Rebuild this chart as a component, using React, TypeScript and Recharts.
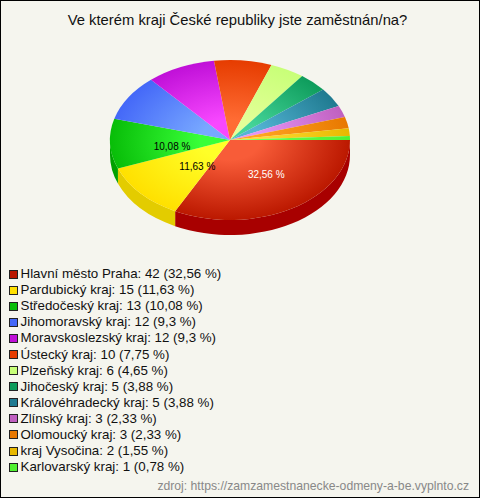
import { PieChart, Pie, Legend } from "recharts";

const regions = [
  "Hlavní město Praha",
  "Pardubický kraj",
  "Středočeský kraj",
  "Jihomoravský kraj",
  "Moravskoslezský kraj",
  "Ústecký kraj",
  "Plzeňský kraj",
  "Jihočeský kraj",
  "Královéhradecký kraj",
  "Zlínský kraj",
  "Olomoucký kraj",
  "kraj Vysočina",
  "Karlovarský kraj",
];
const counts = [42, 15, 13, 12, 12, 10, 6, 5, 5, 3, 3, 2, 1];
const percents = ["32,56", "11,63", "10,08", "9,3", "9,3", "7,75", "4,65", "3,88", "3,88", "2,33", "2,33", "1,55", "0,78"];

const rimColors = ["#bb1800", "#ffe000", "#08bd08", "#4468f8", "#c010d8", "#e63c00", "#c8ff78", "#0e9c5c", "#1f7a90", "#c060c0", "#e87800", "#e8b800", "#50f030"];
const coreColors = ["#f85c38", "#ffff28", "#38ff38", "#78a8ff", "#f848ff", "#ff6c34", "#e4ff98", "#44d498", "#54b4d4", "#e494f4", "#ffa420", "#ffdc34", "#70ff50"];
const sideColors = ["#a80000", "#e3cc00", "#00a000", "#3050c0", "#9000a0", "#b83000", "#a0cc60", "#0a7a48", "#186070", "#984c98", "#b86000", "#b89000", "#40c028"];

const labelNudges: Record<number, [number, number]> = { 0: [5, 0], 1: [12, 0], 2: [2, 5] };

const tableData = regions.map((name, i) => ({ name, value: counts[i], fill: rimColors[i] }));

const SQUASH = 2 / 3;
const DEPTH = 15;

const pt = (cx: number, cy: number, r: number, deg: number, dy = 0) => {
  const a = (deg * Math.PI) / 180;
  return [cx + r * Math.cos(a), cy + r * SQUASH * Math.sin(a) + dy];
};

const Slice = (props: any) => {
  const { cx, cy, outerRadius: r, startAngle, endAngle, index, name } = props;
  const i = index ?? regions.indexOf(name);
  const from = -startAngle;
  const to = -endAngle;
  const [x1, y1] = pt(cx, cy, r, from);
  const [x2, y2] = pt(cx, cy, r, to);
  const ry = r * SQUASH;
  const large = to - from > 180 ? 1 : 0;
  const top = `M${cx},${cy} L${x1},${y1} A${r},${ry} 0 ${large} 1 ${x2},${y2} Z`;

  // the rim is only seen on the front half
  let wall = null;
  const wallEnd = Math.min(to, 180);
  if (from < 180) {
    const [a1, b1] = pt(cx, cy, r, from);
    const [a2, b2] = pt(cx, cy, r, wallEnd);
    wall = (
      <path
        d={`M${a1},${b1} A${r},${ry} 0 0 1 ${a2},${b2} L${a2},${b2 + DEPTH} A${r},${ry} 0 0 0 ${a1},${b1 + DEPTH} Z`}
        fill={sideColors[i]}
      />
    );
  }

  const gid = `slice-${i}`;
  return (
    <g>
      <defs>
        <radialGradient
          id={gid}
          gradientUnits="userSpaceOnUse"
          cx={cx}
          cy={cy}
          r={r}
          gradientTransform={`translate(${cx} ${cy}) scale(1 ${SQUASH}) translate(${-cx} ${-cy})`}
        >
          <stop offset="25%" stopColor={coreColors[i]} />
          <stop offset="100%" stopColor={rimColors[i]} />
        </radialGradient>
      </defs>
      {wall}
      <path d={top} fill={`url(#${gid})`} />
    </g>
  );
};

const sliceLabel = (props: any) => {
  const { cx, cy, midAngle, outerRadius: r, index } = props;
  if (index > 2) return null;
  const [x, y] = pt(cx, cy, r * 0.5, -midAngle);
  const [nx, ny] = labelNudges[index];
  return (
    <text
      x={x + nx}
      y={y + ny}
      textAnchor="middle"
      dominantBaseline="central"
      fontSize={10}
      fontFamily="Liberation Sans"
      fill={index === 0 ? "#fff" : "#000"}
    >
      {percents[index]} %
    </text>
  );
};

const RegionLegend = () => (
  <div style={{ fontFamily: "Liberation Sans", fontSize: 13.33, color: "#111", lineHeight: "16px" }}>
    {regions.map((name, i) => (
      <div key={name} style={{ display: "flex", alignItems: "center", height: 16.1, whiteSpace: "nowrap" }}>
        <span
          style={{
            display: "inline-block",
            boxSizing: "border-box",
            width: 9,
            height: 9,
            marginRight: 3,
            background: rimColors[i],
            border: "1px solid #222",
          }}
        />
        {`${name}: ${counts[i]} (${percents[i]} %)`}
      </div>
    ))}
  </div>
);

export default function App() {
  return (
    <div
      style={{
        position: "absolute",
        left: 0,
        top: 0,
        width: 480,
        height: 498,
        background: "#f5f5ee",
        boxShadow: "inset 0 0 0 1px #000",
      }}
    >
      <PieChart width={480} height={498} margin={{ top: 0, right: 0, bottom: 0, left: 0 }}>
        <text x={237.5} y={25} textAnchor="middle" fontFamily="Liberation Sans" fontSize={14.8} fill="#111">
          Ve kterém kraji České republiky jste zaměstnán/na?
        </text>
        <Pie
          data={tableData}
          dataKey="value"
          nameKey="name"
          cx={230}
          cy={140}
          outerRadius={120}
          startAngle={0}
          endAngle={-360}
          stroke="none"
          shape={Slice}
          label={sliceLabel}
          labelLine={false}
          isAnimationActive={false}
        />
        <Legend
          content={<RegionLegend />}
          wrapperStyle={{ position: "absolute", left: 8.5, top: 266, width: 400, bottom: "auto" }}
        />
        <text x={469} y={490} textAnchor="end" fontFamily="Liberation Sans" fontSize={12.2} fill="#888888">
          zdroj: https://zamzamestnanecke-odmeny-a-be.vyplnto.cz
        </text>
      </PieChart>
    </div>
  );
}
